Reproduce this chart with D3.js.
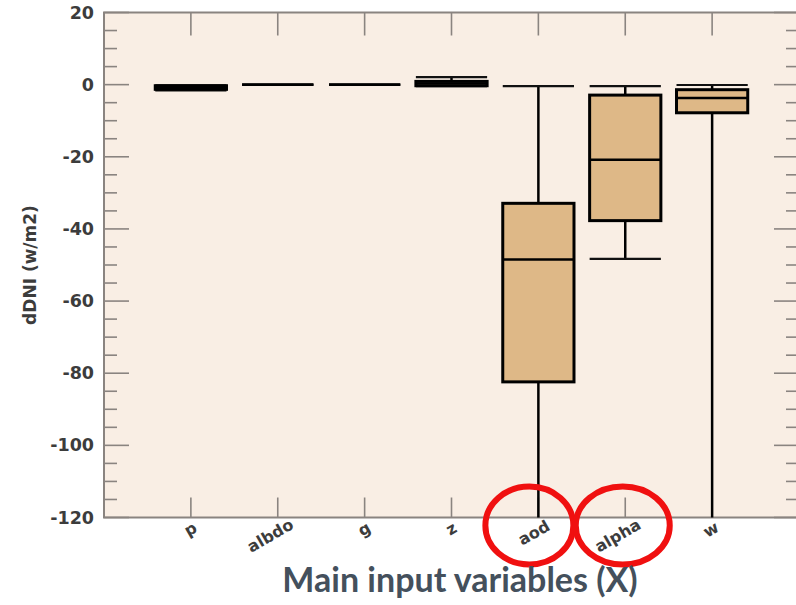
<!DOCTYPE html>
<html>
<head>
<meta charset="utf-8">
<script src="https://cdn.jsdelivr.net/npm/d3@7"></script>
<style>
  html, body { margin: 0; padding: 0; background: #fff; overflow: hidden; }
  svg { display: block; }
</style>
</head>
<body>
<svg id="chart" width="796" height="605"></svg>
<script>
// Input variables along the x axis
const variables = ["p", "albdo", "g", "z", "aod", "alpha", "w"];
// Box-plot statistics of dDNI (W/m2) per variable
const whiskerLow  = [-1.6, 0, 0, -0.4, -125, -48.3, -125];
const quartile1   = [-1.3, 0, 0, -0.3, -82.4, -37.7, -7.8];
const medians     = [-0.8, 0, 0, 0.3, -48.5, -20.8, -3.7];
const quartile3   = [-0.3, 0, 0, 0.9, -32.9, -2.9, -1.4];
const whiskerHigh = [-0.2, 0, 0, 2.1, -0.4, -0.4, -0.1];
// Y axis ticks
const yMajorTicks = [20, 0, -20, -40, -60, -80, -100, -120];
const yMinorTicks = d3.range(-120, 20.1, 5);
// Highlighted variables
const highlighted = ["aod", "alpha"];

const svg = d3.select("#chart");
const plotLeft = 104, plotTop = 12.5, plotBottom = 517.5, plotRight = 799;

const x = d3.scaleLinear().domain([0, variables.length + 1]).range([plotLeft, plotRight]);
const y = d3.scaleLinear().domain([-120, 20]).range([plotBottom, plotTop]);
const step = x(1) - x(0);
const boxW = step * 0.82;

// Plot background
svg.append("rect")
  .attr("x", plotLeft).attr("y", plotTop)
  .attr("width", plotRight - plotLeft).attr("height", plotBottom - plotTop)
  .attr("fill", "#f9eee4");

svg.append("defs").append("clipPath").attr("id", "plotClip")
  .append("rect").attr("x", plotLeft).attr("y", plotTop - 4)
  .attr("width", plotRight - plotLeft).attr("height", plotBottom - plotTop + 4);

const axisColor = "#8a8480";

// Minor / major y ticks on left and right
const tickG = svg.append("g").attr("stroke", axisColor).attr("stroke-width", 1.6);
yMinorTicks.forEach(v => {
  const major = yMajorTicks.includes(v);
  const len = major ? 25 : 13;
  tickG.append("line").attr("x1", plotLeft).attr("x2", plotLeft + len).attr("y1", y(v)).attr("y2", y(v));
  tickG.append("line").attr("x1", plotRight).attr("x2", plotRight - len).attr("y1", y(v)).attr("y2", y(v));
});
// Category ticks on top and bottom
variables.forEach((v, i) => {
  const cx = x(i + 1);
  tickG.append("line").attr("x1", cx).attr("x2", cx).attr("y1", plotTop).attr("y2", plotTop + 23);
  tickG.append("line").attr("x1", cx).attr("x2", cx).attr("y1", plotBottom).attr("y2", plotBottom - 20);
});

// Frame
svg.append("rect")
  .attr("x", plotLeft).attr("y", plotTop)
  .attr("width", plotRight - plotLeft).attr("height", plotBottom - plotTop)
  .attr("fill", "none").attr("stroke", axisColor).attr("stroke-width", 2);

// Y tick labels via d3 axis (plain hyphen for negatives)
const yAxis = svg.append("g")
  .attr("transform", `translate(${plotLeft},0)`)
  .call(d3.axisLeft(y).tickValues(yMajorTicks).tickSize(0).tickPadding(10).tickFormat(d => String(d)));
yAxis.select(".domain").remove();
yAxis.selectAll("text")
  .attr("font-family", "DejaVu Sans, sans-serif")
  .attr("font-weight", "bold")
  .attr("font-size", 17.5)
  .attr("fill", "#3c3c3c");

// Y axis title
svg.append("text")
  .attr("transform", `translate(36,265) rotate(-90)`)
  .attr("text-anchor", "middle")
  .attr("font-family", "DejaVu Sans, sans-serif")
  .attr("font-weight", "bold")
  .attr("font-size", 17)
  .attr("fill", "#3c3c3c")
  .text("dDNI (w/m2)");

// Boxes
const boxes = svg.append("g").attr("clip-path", "url(#plotClip)");
variables.forEach((v, i) => {
  const cx = x(i + 1);
  const g = boxes.append("g");
  // whiskers
  g.append("line").attr("x1", cx).attr("x2", cx)
    .attr("y1", y(whiskerHigh[i])).attr("y2", y(quartile3[i]))
    .attr("stroke", "#000").attr("stroke-width", 2.5);
  g.append("line").attr("x1", cx).attr("x2", cx)
    .attr("y1", y(quartile1[i])).attr("y2", y(whiskerLow[i]))
    .attr("stroke", "#000").attr("stroke-width", 2.5);
  // caps
  [whiskerHigh[i], whiskerLow[i]].forEach(w => {
    g.append("line").attr("x1", cx - boxW / 2).attr("x2", cx + boxW / 2)
      .attr("y1", y(w)).attr("y2", y(w))
      .attr("stroke", "#111").attr("stroke-width", 2.2);
  });
  // box
  g.append("rect")
    .attr("x", cx - boxW / 2).attr("width", boxW)
    .attr("y", y(quartile3[i])).attr("height", Math.max(0, y(quartile1[i]) - y(quartile3[i])))
    .attr("fill", "#deb887").attr("stroke", "#000").attr("stroke-width", 3);
  // median
  g.append("line").attr("x1", cx - boxW / 2).attr("x2", cx + boxW / 2)
    .attr("y1", y(medians[i])).attr("y2", y(medians[i]))
    .attr("stroke", "#000").attr("stroke-width", 2.5);
});

// Category labels, rotated; longer labels sit a little lower and to the left
variables.forEach((v, i) => {
  const t = svg.append("text")
    .attr("text-anchor", "middle")
    .attr("dy", "0.35em")
    .attr("font-family", "DejaVu Sans, sans-serif")
    .attr("font-weight", "bold")
    .attr("font-size", 16)
    .attr("fill", "#3c3c3c")
    .text(v);
  const len = t.node().getComputedTextLength();
  t.attr("transform", `translate(${x(i + 1) - 0.18 * len + 1.5},${527 + 0.17 * len}) rotate(-30)`);
});

// Circles around the highlighted variables
const circleShift = { aod: -9, alpha: -2.5 };
const circleRx = { aod: 44, alpha: 47 };
highlighted.forEach(v => {
  const i = variables.indexOf(v);
  svg.append("ellipse")
    .attr("cx", x(i + 1) + circleShift[v]).attr("cy", 525.5)
    .attr("rx", circleRx[v]).attr("ry", 39)
    .attr("fill", "none").attr("stroke", "#f01010").attr("stroke-width", 6);
});

// X axis title
svg.append("text")
  .attr("x", 460).attr("y", 592)
  .attr("text-anchor", "middle")
  .attr("font-family", "Lato, 'Open Sans', sans-serif")
  .attr("font-weight", "bold")
  .attr("font-size", 34)
  .attr("fill", "#44505c")
  .text("Main input variables (X)");
</script>
</body>
</html>
